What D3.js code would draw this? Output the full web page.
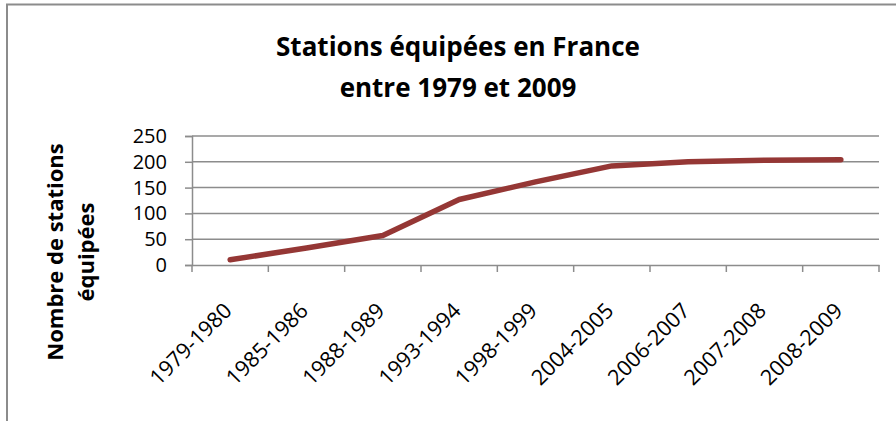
<!DOCTYPE html>
<html lang="fr">
<head>
    <meta charset="UTF-8">
    <title>Stations équipées en France</title>
    <script src="https://d3js.org/d3.v7.min.js"></script>
    <style>
        body { margin: 0; background: #fff; }
        svg text { font-family: "Open Sans", "Noto Sans", sans-serif; fill: #000; }
        .tick-label { font-size: 21.5px; }
        .title { font-size: 26px; font-weight: bold; text-anchor: middle; }
        .axis-title { font-size: 22px; font-weight: bold; text-anchor: middle; }
    </style>
</head>
<body>
    <svg id="chart" width="896" height="421"></svg>

    <script>
        const periods = ["1979-1980", "1985-1986", "1988-1989", "1993-1994", "1998-1999",
            "2004-2005", "2006-2007", "2007-2008", "2008-2009"];
        const stations = [10, 33, 57, 127, 161, 192, 200, 203, 204];
        const yTicks = [0, 50, 100, 150, 200, 250];

        const svg = d3.select("#chart");
        const width = +svg.attr("width");
        const height = +svg.attr("height");
        const margin = { top: 136, right: 17, bottom: 156, left: 192 };

        // cadre du graphique
        svg.append("path")
            .attr("d", `M7,${height} V4.5 H${width}`)
            .attr("fill", "none")
            .attr("stroke", "#8c8c8c")
            .attr("stroke-width", 2);

        const x = d3.scaleBand()
            .domain(periods)
            .range([margin.left, width - margin.right]);

        const y = d3.scaleLinear()
            .domain([0, 250])
            .range([height - margin.bottom, margin.top]);

        // quadrillage horizontal
        svg.selectAll(".grid")
            .data(yTicks.slice(1))
            .enter().append("line")
            .attr("x1", margin.left)
            .attr("x2", width - margin.right)
            .attr("y1", d => y(d))
            .attr("y2", d => y(d))
            .attr("stroke", "#8c8c8c")
            .attr("stroke-width", 1.5);

        // axe Y
        const yAxis = svg.append("g")
            .attr("transform", `translate(${margin.left},0)`)
            .call(d3.axisLeft(y).tickValues(yTicks).tickSize(7).tickPadding(18));
        yAxis.select(".domain").attr("stroke", "#8c8c8c").attr("stroke-width", 1.5);
        yAxis.selectAll(".tick line").attr("stroke", "#8c8c8c").attr("stroke-width", 1.5);
        yAxis.selectAll(".tick text").attr("class", "tick-label").style("font-size", "20px")
            .style("font-family", "'Open Sans', sans-serif");

        // axe X (graduations entre les catégories)
        const xAxis = svg.append("g")
            .attr("transform", `translate(0,${y(0)})`)
            .call(d3.axisBottom(x).tickSize(0).tickFormat(""));
        xAxis.select(".domain").attr("stroke", "#8c8c8c").attr("stroke-width", 1.5);

        const bounds = periods.map(p => x(p)).concat([x.range()[1]]);
        svg.selectAll(".xtick")
            .data(bounds)
            .enter().append("line")
            .attr("x1", d => d)
            .attr("x2", d => d)
            .attr("y1", y(0))
            .attr("y2", y(0) + 7)
            .attr("stroke", "#8c8c8c")
            .attr("stroke-width", 1.5);

        svg.selectAll(".xlabel")
            .data(periods)
            .enter().append("text")
            .attr("class", "tick-label")
            .attr("text-anchor", "end")
            .attr("transform", d => `translate(${x(d) + x.bandwidth() / 2 + 3},${y(0) + 47}) rotate(-45)`)
            .text(d => d);

        // courbe
        const line = d3.line()
            .x((d, i) => x(periods[i]) + x.bandwidth() / 2)
            .y(d => y(d));

        svg.append("path")
            .datum(stations)
            .attr("d", line)
            .attr("fill", "none")
            .attr("stroke", "#953735")
            .attr("stroke-width", 5.5)
            .attr("stroke-linejoin", "round")
            .attr("stroke-linecap", "round");

        // titres
        svg.append("text").attr("class", "title")
            .attr("x", 458).attr("y", 56)
            .text("Stations équipées en France");
        svg.append("text").attr("class", "title")
            .attr("x", 458).attr("y", 97)
            .text("entre 1979 et 2009");

        const yTitle = svg.append("text").attr("class", "axis-title")
            .attr("transform", "translate(63,252) rotate(-90)");
        yTitle.append("tspan").attr("x", 0).attr("dy", 0).text("Nombre de stations");
        yTitle.append("tspan").attr("x", 0).attr("dy", 31).text("équipées");
    </script>
</body>
</html>
